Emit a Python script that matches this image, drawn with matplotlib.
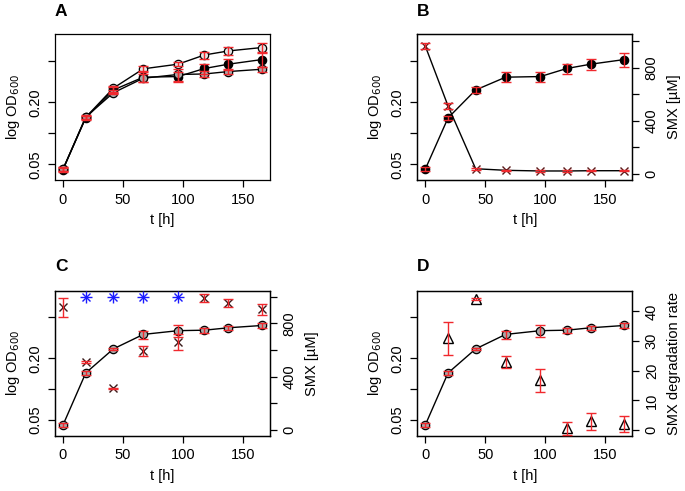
import numpy as np
import matplotlib
matplotlib.use("Agg")
import matplotlib.pyplot as plt
from matplotlib.ticker import NullLocator

plt.rcParams.update({
    "font.family": ["Liberation Sans", "DejaVu Sans"],
    "font.size": 10.5,
    "axes.linewidth": 0.9,
    "xtick.major.size": 5,
    "ytick.major.size": 5,
    "xtick.major.width": 0.9,
    "ytick.major.width": 0.9,
})

# ---- data ----
t_h = [0, 19, 42, 67, 96, 118, 138, 166]

od_open = [0.0444, 0.143, 0.274, 0.422, 0.468, 0.575, 0.629, 0.679]
od_open_sd = [0.002, 0.005, 0.012, 0.024, 0.020, 0.044, 0.056, 0.068]

od_black = [0.0448, 0.141, 0.263, 0.350, 0.355, 0.425, 0.468, 0.519]
od_black_sd = [0.002, 0.005, 0.016, 0.039, 0.038, 0.050, 0.056, 0.083]

od_grey = [0.0447, 0.144, 0.247, 0.342, 0.372, 0.376, 0.397, 0.418]
od_grey_sd = [0.002, 0.0066, 0.005, 0.031, 0.048, 0.023, 0.020, 0.022]

smx_b = [965, 513, 40, 28, 23, 23, 25, 25]
smx_b_sd = [20, 25, 6, 4, 4, 4, 4, 4]

smx_c = [920, 512, 312, 592, 662, 987, 950, 905]
smx_c_sd = [70, 8, 5, 36, 60, 30, 30, 43]

t_star = [19, 42, 67, 96]
smx_star = [1000, 1000, 1000, 1000]

t_rate = [19, 42, 67, 96, 118, 138, 166]
rate_d = [31.0, 44.2, 22.9, 16.8, 0.6, 3.0, 2.0]
rate_d_sd = [5.6, 0.5, 2.1, 3.8, 2.2, 2.9, 2.7]

RED = "#f0282d"
GREY = "#a8a8a8"
LIGHT = "#e4e4e4"
BLUE = "#1a1aff"

W, H = 685, 491
XLIM = (-6.64, 172.64)
OD_LIM = (10 ** -1.453, 10 ** -0.040)


def box(x0, y0, x1, y1):
    return [x0 / W, 1 - y1 / H, (x1 - x0) / W, (y1 - y0) / H]


def od_axis(ax):
    ax.set_yscale("log")
    ax.set_ylim(*OD_LIM)
    ax.set_yticks([0.05, 0.1, 0.2, 0.5], ["0.05", "", "0.20", ""])
    ax.yaxis.set_minor_locator(NullLocator())
    for lab in ax.get_yticklabels():
        lab.set_rotation(90)
        lab.set_va("center")
    ax.set_xlim(*XLIM)
    ax.set_xticks([0, 50, 100, 150])
    ax.tick_params(direction="out", pad=4)
    ax.set_xlabel("t [h]", labelpad=5)
    ax.set_ylabel(r"log OD$_{600}$", labelpad=5)


def err(ax, x, y, sd):
    ax.errorbar(x, y, yerr=sd, fmt="none", ecolor=RED, elinewidth=1.0,
                capsize=3.8, capthick=1.0, zorder=4)


def od_series(ax, y, sd, face):
    ax.plot(t_h, y, "-", color="black", lw=1.0, marker="o", ms=6,
            mfc=face, mec="black", mew=0.9, zorder=3)
    err(ax, t_h, y, sd)


def right_axis(ax, lim, ticks, labels, ylabel):
    ax2 = ax.twinx()
    ax2.set_ylim(*lim)
    ax2.set_yticks(ticks, labels)
    ax2.tick_params(direction="out", pad=4)
    for lab in ax2.get_yticklabels():
        lab.set_rotation(90)
        lab.set_va("center")
    ax2.set_ylabel(ylabel, labelpad=6)
    return ax2


fig = plt.figure(figsize=(W / 100, H / 100), dpi=100)

# A
axA = fig.add_axes(box(55, 34.3, 270, 180))
od_axis(axA)
od_series(axA, od_open, od_open_sd, LIGHT)
od_series(axA, od_black, od_black_sd, "black")
od_series(axA, od_grey, od_grey_sd, GREY)

# B
axB = fig.add_axes(box(417.3, 34.3, 632.3, 180))
od_axis(axB)
od_series(axB, od_black, od_black_sd, "black")
axB2 = right_axis(axB, (-45, 1053), [0, 200, 400, 600, 800, 1000],
                  ["0", "", "400", "", "800", ""], "SMX [µM]")
axB2.plot(t_h, smx_b, "-", color="black", lw=1.0, marker="x", ms=6,
          mew=1.0, mec="#5a1a1a", zorder=3)
err(axB2, t_h, smx_b, smx_b_sd)

# C
axC = fig.add_axes(box(55, 290.7, 270, 435.7))
od_axis(axC)
od_series(axC, od_grey, od_grey_sd, GREY)
axC2 = right_axis(axC, (-42.5, 1045), [0, 200, 400, 600, 800, 1000],
                  ["0", "", "400", "", "800", ""], "SMX [µM]")
axC2.plot(t_h, smx_c, "x", color="#3a1a1a", ms=6, mew=1.0, zorder=3)
err(axC2, t_h, smx_c, smx_c_sd)
axC2.plot(t_star, smx_star, "x", color=BLUE, ms=6, mew=1.0, zorder=5)
axC2.plot(t_star, smx_star, "+", color=BLUE, ms=8.5, mew=1.0, zorder=5)

# D
axD = fig.add_axes(box(417.3, 290.7, 632.3, 435.7))
od_axis(axD)
od_series(axD, od_grey, od_grey_sd, GREY)
axD2 = right_axis(axD, (-1.9, 47.0), [0, 10, 20, 30, 40],
                  ["0", "10", "20", "30", "40"], "SMX degradation rate")
axD2.plot(t_rate, rate_d, "^", color="black", ms=7.5, mfc="none",
          mew=1.0, zorder=3)
err(axD2, t_rate, rate_d, rate_d_sd)

for letter, x, y in [("A", 55, 16), ("B", 417.3, 16),
                     ("C", 55, 271), ("D", 417.3, 271)]:
    fig.text(x / W, 1 - y / H, letter, fontsize=12.5, fontweight="bold",
             ha="left", va="baseline")

fig.savefig("out.png", dpi=100, facecolor="white")
